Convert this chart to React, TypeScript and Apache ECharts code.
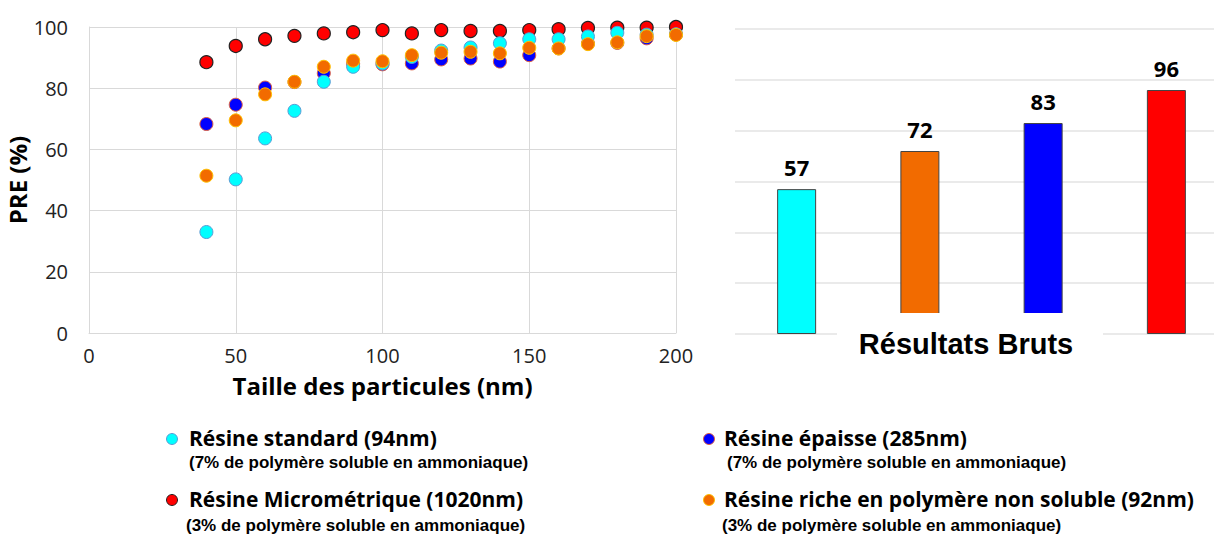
import React, { useEffect, useRef } from "react";
import * as echarts from "echarts";

const sizes = [40, 50, 60, 70, 80, 90, 100, 110, 120, 130, 140, 150, 160, 170, 180, 190, 200];
const standardPRE = [33, 50.2, 63.6, 72.6, 82.1, 87, 88.1, 90.2, 92.3, 93.3, 94.7, 96, 96, 96.9, 98.1, 97.5, 97.6];
const epaissePRE = [68.3, 74.6, 80.2, 82, 84.9, 88, 87.8, 88.1, 89.4, 89.7, 88.7, 90.8, 93, 94.6, 94.8, 96.3, 97.6];
const microPRE = [88.5, 93.8, 96, 97.1, 97.9, 98.3, 99, 97.9, 99, 98.7, 98.7, 99, 99.3, 99.7, 99.8, 99.8, 100];
const richePRE = [51.4, 69.5, 78, 82.1, 87, 89, 88.8, 90.8, 91.6, 91.9, 91.4, 93.2, 93, 94.4, 95, 97, 97.4];

const barCategories = ["Standard", "Riche", "Épaisse", "Micrométrique"];
const barValues = [57, 72, 83, 96];
const barColors = ["#00ffff", "#f26b00", "#0000ff", "#ff0000"];

const xTicks = { min: 0, max: 200, interval: 50 };
const yTicks = { min: 0, max: 100, interval: 20 };

const legendItems = [
  { name: "Résine standard (94nm)", sub: "(7% de polymère soluble en ammoniaque)", color: "#00ffff", border: "#5b9bd5" },
  { name: "Résine Micrométrique (1020nm)", sub: "(3% de polymère soluble en ammoniaque)", color: "#ff0000", border: "#222222" },
  { name: "Résine épaisse (285nm)", sub: "(7% de polymère soluble en ammoniaque)", color: "#0000ff", border: "#e06040" },
  { name: "Résine riche en polymère non soluble (92nm)", sub: "(3% de polymère soluble en ammoniaque)", color: "#f26b00", border: "#ffc000" },
];

const pair = (ys: number[]) => sizes.map((x, i) => [x, ys[i]]);

export default function App() {
  const ref = useRef<HTMLDivElement>(null);
  useEffect(() => {
    document.body.style.margin = "0";
    const chart = echarts.init(ref.current!, undefined, { renderer: "svg" });
    const grid = "#d9d9d9";
    const mainFont = '"Open Sans"';
    const legendPos = [
      { dx: 172, dy: 438, tx: 189, sx: 189, sy: 462 },
      { dx: 172, dy: 499, tx: 189, sx: 186, sy: 525 },
      { dx: 709, dy: 438, tx: 724, sx: 727, sy: 462 },
      { dx: 709, dy: 499, tx: 724, sx: 722, sy: 525 },
    ];
    const legendGraphics: any[] = [];
    legendItems.forEach((it, i) => {
      const p = legendPos[i];
      legendGraphics.push({
        type: "circle",
        shape: { cx: p.dx, cy: p.dy + 1, r: 5.5 },
        style: { fill: it.color, stroke: it.border, lineWidth: 1 },
      });
      legendGraphics.push({
        type: "text",
        x: p.tx,
        y: p.dy,
        style: { text: it.name, fill: "#000", font: `bold 21px ${mainFont}`, verticalAlign: "middle", lineHeight: 21 },
      });
      legendGraphics.push({
        type: "text",
        x: p.sx,
        y: p.sy,
        style: { text: it.sub, fill: "#000", font: 'bold 17px "Liberation Sans"', verticalAlign: "middle", lineHeight: 16 },
      });
    });
    const scatterSeries = (name: string, ys: number[], color: string, border: string, bw: number) => ({
      type: "scatter",
      name,
      xAxisIndex: 0,
      yAxisIndex: 0,
      data: pair(ys),
      symbolSize: 13,
      itemStyle: { color, borderColor: border, borderWidth: bw, opacity: 1 },
    });
    chart.setOption({
      animation: false,
      grid: [
        { left: 89, top: 27, width: 587, height: 306, outerBoundsMode: "none" },
        { left: 735, top: 29, width: 493, height: 305, outerBoundsMode: "none" },
      ],
      xAxis: [
        {
          gridIndex: 0,
          type: "value",
          min: xTicks.min,
          max: xTicks.max,
          interval: xTicks.interval,
          axisLine: { show: true, lineStyle: { color: grid } },
          axisTick: { show: false },
          splitLine: { show: true, lineStyle: { color: grid } },
          axisLabel: { color: "#222", fontSize: 20, fontFamily: mainFont, margin: 12 },
          name: "Taille des particules (nm)",
          nameLocation: "middle",
          nameGap: 40,
          nameTextStyle: { color: "#000", fontSize: 24, fontWeight: "bold", fontFamily: mainFont },
        },
        {
          gridIndex: 1,
          type: "category",
          data: barCategories,
          axisLine: { show: false },
          axisTick: { show: false },
          axisLabel: { show: false },
        },
      ],
      yAxis: [
        {
          gridIndex: 0,
          type: "value",
          min: yTicks.min,
          max: yTicks.max,
          interval: yTicks.interval,
          axisLine: { show: true, lineStyle: { color: grid } },
          axisTick: { show: false },
          splitLine: { show: true, lineStyle: { color: grid } },
          axisLabel: { color: "#222", fontSize: 20, fontFamily: mainFont, margin: 21 },
          name: "PRE (%)",
          nameLocation: "middle",
          nameGap: 50,
          nameTextStyle: { color: "#000", fontSize: 24, fontWeight: "bold", fontFamily: mainFont },
        },
        {
          gridIndex: 1,
          type: "value",
          min: 0,
          max: 120,
          interval: 20,
          axisLine: { show: false },
          axisTick: { show: false },
          axisLabel: { show: false },
          splitLine: { show: true, lineStyle: { color: "#e3e3e3", width: 1.5 } },
        },
      ],
      series: [
        scatterSeries("Résine Micrométrique (1020nm)", microPRE, "#ff0000", "#222222", 1.2),
        scatterSeries("Résine épaisse (285nm)", epaissePRE, "#0000ff", "#e06040", 1),
        scatterSeries("Résine standard (94nm)", standardPRE, "#00ffff", "#5b9bd5", 1),
        scatterSeries("Résine riche en polymère non soluble (92nm)", richePRE, "#f26b00", "#ffc000", 1),
        {
          type: "bar",
          xAxisIndex: 1,
          yAxisIndex: 1,
          barWidth: 39,
          data: barValues.map((v, i) => ({ value: v, itemStyle: { color: barColors[i] } })),
          itemStyle: { borderColor: "#444", borderWidth: 1 },
          label: {
            show: true,
            position: "top",
            distance: 11,
            color: "#000",
            fontSize: 22,
            fontWeight: "bold",
            fontFamily: mainFont,
          },
        },
      ],
      graphic: [
        {
          type: "rect",
          z: 100,
          shape: { x: 837, y: 313, width: 266, height: 50 },
          style: { fill: "#fff" },
        },
        {
          type: "text",
          z: 101,
          x: 966,
          y: 344,
          style: {
            text: "Résultats Bruts",
            fill: "#000",
            font: 'bold 29px "Liberation Sans"',
            align: "center",
            verticalAlign: "middle",
          },
        },
        ...legendGraphics,
      ],
    });
    return () => chart.dispose();
  }, []);
  return <div ref={ref} style={{ width: 1214, height: 534 }} />;
}
